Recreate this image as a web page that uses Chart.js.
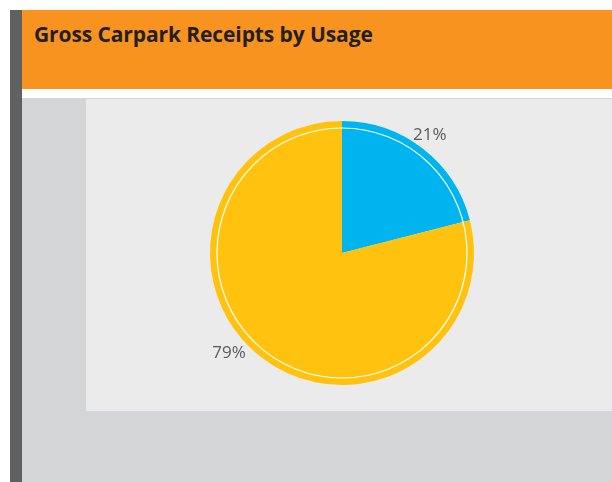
<!DOCTYPE html>
<html>
<head>
<meta charset="utf-8">
<script src="https://cdn.jsdelivr.net/npm/chart.js@4/dist/chart.umd.min.js"></script>
<style>
  html, body { margin: 0; padding: 0; background: #ffffff; width: 612px; height: 482px; overflow: hidden; }
  .side { position: absolute; left: 10px; top: 10px; width: 12px; height: 472px; background: #5f6062; }
  .header { position: absolute; left: 22px; top: 10px; width: 590px; height: 79px; background: #f7931e; }
  .header h1 { margin: 0; position: absolute; left: 12px; top: 10px; font: bold 21px "Open Sans", sans-serif; color: #231f20; letter-spacing: -0.1px; }
  .back { position: absolute; left: 22px; top: 98px; width: 590px; height: 384px; background: #d4d5d7; }
  .panel { position: absolute; left: 86px; top: 99px; width: 526px; height: 312px; background: #ebebeb; }
  .panel canvas { position: absolute; left: 0; top: 0; }
</style>
</head>
<body>
<div class="side"></div>
<div class="header"><h1>Gross Carpark Receipts by Usage</h1></div>
<div class="back"></div>
<div class="panel"><canvas id="c" width="526" height="312"></canvas></div>
<script>
// Share of gross carpark receipts by usage type
const categories = ['Short stay', 'Long stay'];
const shares = [21, 79];
const sliceColors = ['#00b5ef', '#ffc30f'];

// Thin white ring drawn just inside the pie's outer edge, plus outside percentage labels
const ringAndLabels = {
  id: 'ringAndLabels',
  afterDatasetsDraw(chart) {
    const ctx = chart.ctx;
    const meta = chart.getDatasetMeta(0);
    const first = meta.data[0];
    const cx = first.x, cy = first.y, r = first.outerRadius;
    ctx.save();
    ctx.beginPath();
    ctx.arc(cx, cy, r * 0.947, 0, Math.PI * 2);
    ctx.strokeStyle = '#ffffff';
    ctx.lineWidth = 1.2;
    ctx.stroke();

    ctx.font = '17px "Open Sans", sans-serif';
    ctx.fillStyle = '#5a5a5a';
    ctx.textBaseline = 'middle';
    const nudges = [-0.03, 0.2];
    const total = shares.reduce((a, b) => a + b, 0);
    meta.data.forEach((arc, i) => {
      const mid = (arc.startAngle + arc.endAngle) / 2 + nudges[i];
      const dist = r * 1.13;
      const x = cx + Math.cos(mid) * dist;
      const y = cy + Math.sin(mid) * dist + 3;
      ctx.textAlign = 'center';
      ctx.fillText(Math.round(shares[i] / total * 100) + '%', x, y);
    });
    ctx.restore();
  }
};

new Chart(document.getElementById('c'), {
  type: 'pie',
  data: {
    labels: categories,
    datasets: [{
      data: shares,
      backgroundColor: sliceColors,
      borderWidth: 0
    }]
  },
  options: {
    responsive: false,
    animation: false,
    layout: { padding: { left: 124, right: 138, top: 22, bottom: 26 } },
    plugins: {
      legend: { display: false },
      tooltip: { enabled: false }
    }
  },
  plugins: [ringAndLabels]
});
</script>
</body>
</html>
